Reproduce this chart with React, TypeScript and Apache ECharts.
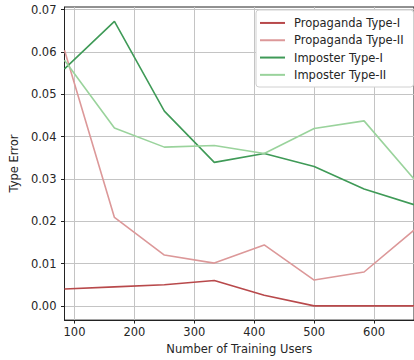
import React, { useEffect, useRef } from "react";
import * as echarts from "echarts";

const users = [83.333, 166.667, 250, 333.333, 416.667, 500, 583.333, 666.667];
const propagandaType1 = [0.004, 0.0045, 0.005, 0.006, 0.0025, 0.0, 0.0, 0.0];
const propagandaType2 = [0.0604, 0.0209, 0.012, 0.0101, 0.0144, 0.0061, 0.008, 0.0179];
const imposterType1 = [0.056, 0.0672, 0.046, 0.0339, 0.036, 0.0329, 0.0276, 0.0239];
const imposterType2 = [0.058, 0.042, 0.0375, 0.0379, 0.036, 0.0419, 0.0437, 0.03];
const xTicks = [100, 200, 300, 400, 500, 600];
const yTicks = [0, 0.01, 0.02, 0.03, 0.04, 0.05, 0.06, 0.07];

const seriesDefs = [
  { name: "Propaganda Type-I", values: propagandaType1, color: "#b8494b" },
  { name: "Propaganda Type-II", values: propagandaType2, color: "#dc9899" },
  { name: "Imposter Type-I", values: imposterType1, color: "#3f9a57" },
  { name: "Imposter Type-II", values: imposterType2, color: "#9ad39c" },
];

const FONT = "DejaVu Sans";
const FS = 11.5;
const TXT = "#262626";

export default function App() {
  const ref = useRef<HTMLDivElement>(null);
  useEffect(() => {
    if (!ref.current) return;
    const chart = echarts.init(ref.current, undefined, { renderer: "svg" });
    chart.setOption({
      animation: false,
      backgroundColor: "#ffffff",
      textStyle: { fontFamily: FONT },
      grid: {
        left: 60.5,
        right: -1,
        top: 7,
        bottom: 35,
        show: true,
        borderColor: "#222",
        borderWidth: 1,
      },
      legend: {
        orient: "vertical",
        left: 256,
        top: 10,
        backgroundColor: "#ffffff",
        borderColor: "#d0d0d0",
        borderWidth: 1,
        borderRadius: 3,
        padding: [6.3, 10, 5.5, 4],
        itemWidth: 25,
        itemHeight: 2,
        itemGap: 4,
        icon: "rect",
        textStyle: {
          fontFamily: FONT,
          fontSize: FS,
          color: TXT,
          lineHeight: 13.3,
          padding: [0, 0, 0, 4],
        },
        data: seriesDefs.map((s) => s.name),
      },
      xAxis: {
        type: "value",
        min: users[0],
        max: users[users.length - 1],
        name: "Number of Training Users",
        nameLocation: "middle",
        nameGap: 22,
        nameTextStyle: { fontFamily: FONT, fontSize: FS, color: TXT },
        axisLine: { show: true, onZero: false, lineStyle: { color: "#222", width: 1 } },
        axisTick: { show: true, length: 3.5, customValues: xTicks, lineStyle: { color: "#222" } },
        axisLabel: {
          customValues: xTicks,
          margin: 6,
          fontFamily: FONT,
          fontSize: FS,
          color: TXT,
        },
        splitLine: { show: true, lineStyle: { color: "#c4c4c4", width: 1 } },
      },
      yAxis: {
        type: "value",
        min: -0.00336,
        max: 0.0706,
        name: "Type Error",
        nameLocation: "middle",
        nameGap: 43,
        nameRotate: 90,
        nameTextStyle: { fontFamily: FONT, fontSize: FS, color: TXT },
        axisLine: { show: true, onZero: false, lineStyle: { color: "#222", width: 1 } },
        axisTick: { show: true, length: 3.5, customValues: yTicks, lineStyle: { color: "#222" } },
        axisLabel: {
          customValues: yTicks,
          margin: 8,
          fontFamily: FONT,
          fontSize: FS,
          color: TXT,
          formatter: (v: number) => v.toFixed(2),
        },
        splitLine: { show: true, lineStyle: { color: "#c4c4c4", width: 1 } },
      },
      series: seriesDefs.map((s) => ({
        name: s.name,
        type: "line",
        showSymbol: false,
        symbol: "none",
        color: s.color,
        lineStyle: { color: s.color, width: 1.6 },
        data: s.values.map((v, i) => [users[i], v]),
      })),
    });
    return () => chart.dispose();
  }, []);
  return (
    <div
      ref={ref}
      style={{ position: "fixed", left: 0, top: 0, width: 414, height: 360 }}
    />
  );
}
